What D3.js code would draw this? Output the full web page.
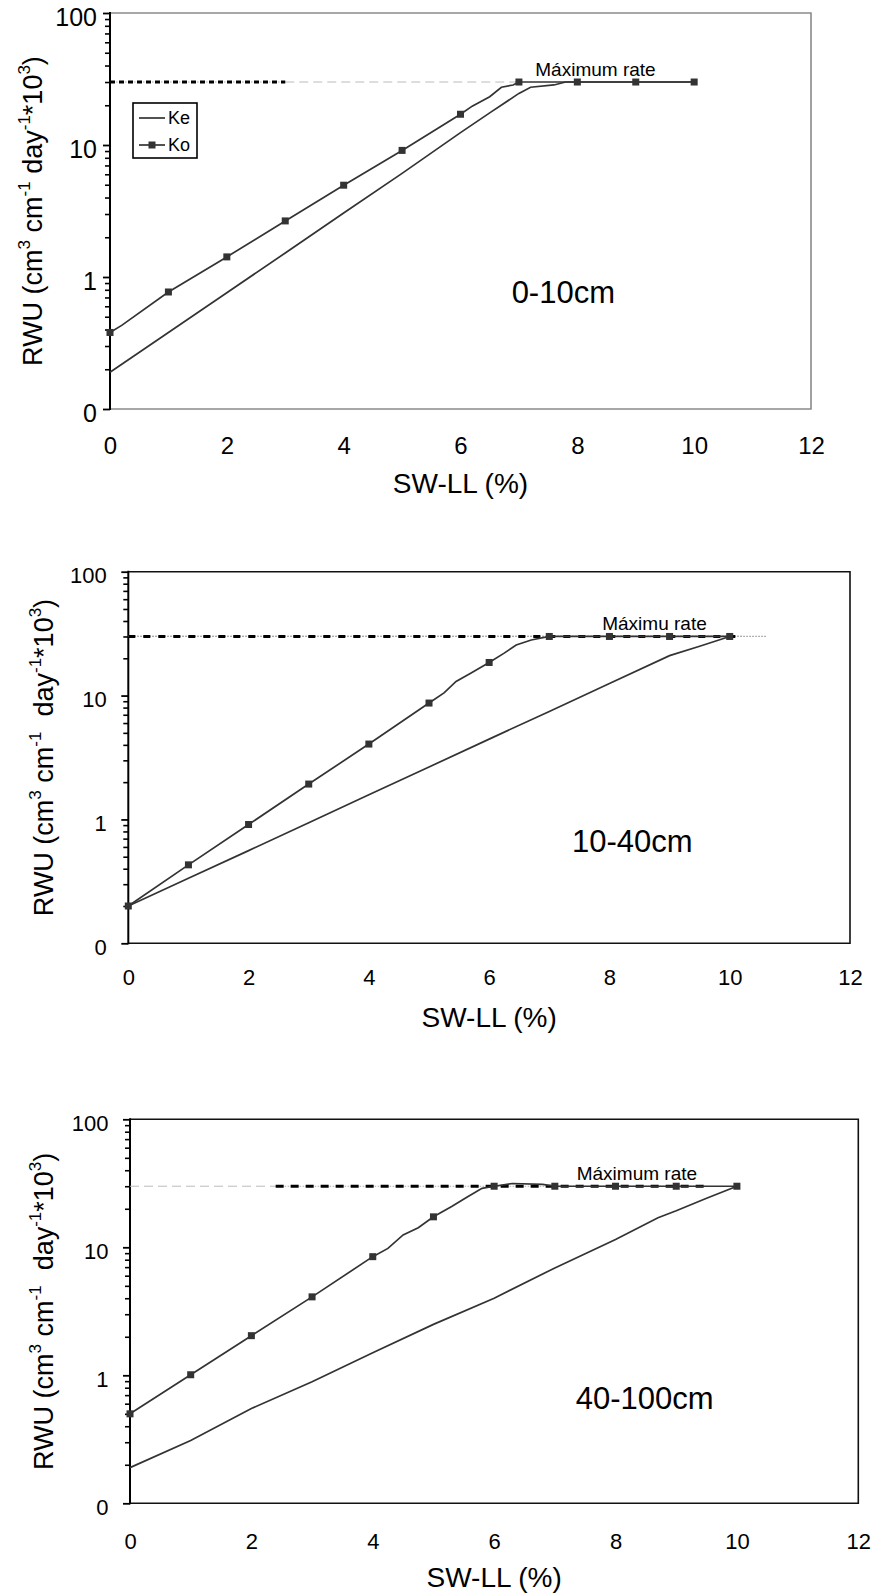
<html>
<meta http-equiv="Content-type" content="text/html;charset=UTF-8">
<head>
<title>RWU vs SW-LL</title>
<script src="https://d3js.org/d3.v7.min.js"></script>
<style>
    body { margin: 0; background: #fff; }
    svg { display: block; font-family: "Liberation Sans", Arial, sans-serif; }
    .domain { display: none; }
</style>
</head>
<body>
<div id="chart"></div>

<script type="text/javascript">
// ***** DATA *****
var xTicks = [0, 2, 4, 6, 8, 10, 12];
var yMajor = [0.1, 1, 10, 100];
var yMajorLabels = ["0", "1", "10", "100"];
var maxRate = 30;

// 0-10cm
var ke1X = [0, 1, 2, 3, 4, 5, 6, 6.5, 7, 7.2, 7.6, 7.8, 8, 9, 10];
var ke1Y = [0.19, 0.38, 0.76, 1.52, 3.05, 6.1, 12.4, 17.5, 24.6, 27.4, 28.5, 30, 30, 30, 30];
var ko1X = [0, 0.2, 1, 2, 3, 4, 5, 6, 6.2, 6.5, 6.7, 6.9, 7, 8, 9, 10];
var ko1Y = [0.38, 0.43, 0.77, 1.42, 2.66, 4.96, 9.1, 17.1, 19.7, 23.2, 27.4, 28.5, 30, 30, 30, 30];

// 10-40cm
var ke2X = [0, 1, 2, 3, 4, 5, 6, 7, 8, 9, 9.5, 10];
var ke2Y = [0.2, 0.335, 0.56, 0.94, 1.58, 2.65, 4.45, 7.45, 12.5, 21, 25, 30];
var ko2X = [0, 1, 2, 3, 4, 5, 5.25, 5.45, 5.7, 6, 6.25, 6.45, 6.7, 7, 8, 9, 10];
var ko2Y = [0.2, 0.43, 0.91, 1.93, 4.06, 8.7, 10.5, 13, 15.2, 18.5, 22, 25.6, 28.1, 30, 30, 30, 30];

// 40-100cm
var ke3X = [0, 1, 2, 3, 4, 5, 6, 7, 8, 8.7, 9, 9.5, 10];
var ke3Y = [0.19, 0.31, 0.55, 0.89, 1.5, 2.5, 4.0, 6.9, 11.5, 17, 19.3, 24.2, 30];
var ko3X = [0, 1, 2, 3, 4, 4.25, 4.5, 4.75, 5, 5.3, 5.55, 5.8, 6, 6.3, 6.8, 7, 8, 9, 10];
var ko3Y = [0.5, 1.01, 2.04, 4.1, 8.45, 9.8, 12.5, 14.2, 17.3, 20.8, 24.6, 28.9, 30, 31.5, 31, 30, 30, 30, 30];

var panels = [
    { left: 110, right: 811, top: 13, bottom: 409, frame: "#8a8a8a",
      yFont: 25, yPad: 6, xFont: 24, xPad: 28, titleX: 42, dash: "5,4",
      depth: "0-10cm", depthAt: [7.76, 0.64], rateText: "Máximum rate", rateAt: [7.28, 30],
      blackDash: [0, 3.0], greyDash: [3.0, 6.97], greyStyle: "dash",
      keX: ke1X, keY: ke1Y, koX: ko1X, koY: ko1Y, legend: true,
      yTitle: [["RWU (cm", 0], ["3", 1], [" cm", 0], ["-1", 1], [" day", 0], ["-1", 1], ["*10", 0], ["3", 1], [")", 0]] },
    { left: 128.3, right: 850, top: 571.7, bottom: 943.3, frame: "#111",
      yFont: 22, yPad: 14.5, xFont: 22, xPad: 26, titleX: 53, dash: "7,8",
      depth: "10-40cm", depthAt: [8.38, 0.55], rateText: "Máximu rate", rateAt: [7.88, 30],
      blackDash: [0, 10.2], greyDash: [0, 10.6], greyStyle: "dot",
      keX: ke2X, keY: ke2Y, koX: ko2X, koY: ko2Y, legend: false,
      yTitle: [["RWU (cm", 0], ["3", 1], [" cm", 0], ["-1", 1], ["  day", 0], ["-1", 1], ["*10", 0], ["3", 1], [")", 0]] },
    { left: 130, right: 858.3, top: 1119.3, bottom: 1503.3, frame: "#111",
      yFont: 22, yPad: 14.5, xFont: 22, xPad: 30, titleX: 53, dash: "8,7",
      depth: "40-100cm", depthAt: [8.48, 0.55], rateText: "Máximum rate", rateAt: [7.36, 30],
      blackDash: [2.4, 9.5], greyDash: [0, 2.4], greyStyle: "dash",
      keX: ke3X, keY: ke3Y, koX: ko3X, koY: ko3Y, legend: false,
      yTitle: [["RWU (cm", 0], ["3", 1], [" cm", 0], ["-1", 1], ["  day", 0], ["-1", 1], ["*10", 0], ["3", 1], [")", 0]] }
];

var svg = d3.select("#chart").append("svg")
    .attr("width", 875)
    .attr("height", 1595);

var lineColor = "#333";

panels.forEach(function(p) {
    var g = svg.append("g");
    var x = d3.scaleLinear().domain([0, 12]).range([p.left, p.right]);
    var y = d3.scaleLog().domain([0.1, 100]).range([p.bottom, p.top]);

    // frame (top, right, bottom) then black left axis
    g.append("path")
        .attr("d", "M" + x(0) + "," + y(100) + "H" + x(12) + "V" + y(0.1) + "H" + x(0))
        .attr("fill", "none").attr("stroke", p.frame).attr("stroke-width", 1.6);
    g.append("line")
        .attr("x1", x(0)).attr("x2", x(0)).attr("y1", y(100) - 1).attr("y2", y(0.1) + 1)
        .attr("stroke", "#000").attr("stroke-width", 2);

    // minor ticks
    var minors = [];
    [0.1, 1, 10].forEach(function(d) {
        for (var k = 2; k <= 9; k++) minors.push(d * k);
    });
    g.append("g")
        .attr("transform", "translate(" + x(0) + ",0)")
        .call(d3.axisLeft(y).tickValues(minors).tickSize(5).tickFormat(""))
        .selectAll("line").attr("stroke", "#000").attr("stroke-width", 1.6);

    // major ticks + labels
    var ya = g.append("g")
        .attr("transform", "translate(" + x(0) + ",0)")
        .call(d3.axisLeft(y).tickValues(yMajor).tickSize(7).tickPadding(p.yPad)
            .tickFormat(function(d, i) { return yMajorLabels[i]; }));
    ya.selectAll("line").attr("stroke", "#000").attr("stroke-width", 1.8);
    ya.selectAll("text").attr("font-size", p.yFont).attr("fill", "#000")
        .attr("font-family", "Liberation Sans, Arial, sans-serif").attr("dy", "0.5em");

    // x labels (no ticks)
    var xa = g.append("g")
        .attr("transform", "translate(0," + y(0.1) + ")")
        .call(d3.axisBottom(x).tickValues(xTicks).tickSize(0).tickPadding(p.xPad));
    xa.selectAll("text").attr("font-size", p.xFont).attr("fill", "#000")
        .attr("font-family", "Liberation Sans, Arial, sans-serif");

    // axis titles
    g.append("text")
        .attr("x", (p.left + p.right) / 2)
        .attr("y", p.bottom + 84)
        .attr("text-anchor", "middle")
        .attr("font-size", 28)
        .text("SW-LL (%)");

    var yt = g.append("text")
        .attr("transform", "translate(" + p.titleX + "," + ((p.top + p.bottom) / 2) + ") rotate(-90)")
        .attr("text-anchor", "middle")
        .attr("font-size", 27);
    var lift = 0;
    p.yTitle.forEach(function(part) {
        var sup = part[1] === 1;
        var dy = sup ? -12 - lift : -lift;
        lift = sup ? -12 : 0;
        yt.append("tspan")
            .attr("dy", dy)
            .attr("font-size", sup ? 17 : 27)
            .style("white-space", "pre")
            .text(part[0]);
    });
    yt.style("white-space", "pre");

    // maximum rate reference lines
    g.append("line")
        .attr("x1", x(p.greyDash[0])).attr("x2", x(p.greyDash[1]))
        .attr("y1", y(maxRate)).attr("y2", y(maxRate))
        .attr("stroke", p.greyStyle === "dot" ? "#999" : "#bbb")
        .attr("stroke-width", p.greyStyle === "dot" ? 1.2 : 1)
        .attr("stroke-dasharray", p.greyStyle === "dot" ? "1.5,1.5" : "9,5");
    g.append("line")
        .attr("x1", x(p.blackDash[0])).attr("x2", x(p.blackDash[1]))
        .attr("y1", y(maxRate)).attr("y2", y(maxRate))
        .attr("stroke", "#aaa").attr("stroke-width", 1.2)
        .attr("stroke-dasharray", "1.5,1.5");
    g.append("line")
        .attr("x1", x(p.blackDash[0])).attr("x2", x(p.blackDash[1]))
        .attr("y1", y(maxRate)).attr("y2", y(maxRate))
        .attr("stroke", "#000").attr("stroke-width", 3)
        .attr("stroke-dasharray", p.dash);

    // series
    var line = d3.line()
        .x(function(d) { return x(d[0]); })
        .y(function(d) { return y(d[1]); });
    var ke = p.keX.map(function(v, i) { return [v, p.keY[i]]; });
    var ko = p.koX.map(function(v, i) { return [v, p.koY[i]]; });

    g.append("path").datum(ke)
        .attr("d", line).attr("fill", "none")
        .attr("stroke", lineColor).attr("stroke-width", 1.7);
    g.append("path").datum(ko)
        .attr("d", line).attr("fill", "none")
        .attr("stroke", lineColor).attr("stroke-width", 1.7);
    g.selectAll("rect.mk")
        .data(ko.filter(function(d) { return Number.isInteger(d[0]); }))
        .enter().append("rect")
        .attr("class", "mk")
        .attr("x", function(d) { return x(d[0]) - 3.5; })
        .attr("y", function(d) { return y(d[1]) - 3.5; })
        .attr("width", 7).attr("height", 7)
        .attr("fill", lineColor);

    // annotations
    g.append("text")
        .attr("x", x(p.rateAt[0]))
        .attr("y", y(p.rateAt[1]) - 6)
        .attr("font-size", 19)
        .text(p.rateText);
    g.append("text")
        .attr("x", x(p.depthAt[0]))
        .attr("y", y(p.depthAt[1]))
        .attr("text-anchor", "middle")
        .attr("font-size", 31)
        .text(p.depth);

    // legend
    if (p.legend) {
        var lg = g.append("g").attr("transform", "translate(133,103)");
        lg.append("rect").attr("width", 64).attr("height", 55)
            .attr("fill", "#fff").attr("stroke", "#000").attr("stroke-width", 1.6);
        [["Ke", false], ["Ko", true]].forEach(function(it, i) {
            var yy = 15 + i * 27;
            lg.append("line").attr("x1", 6).attr("x2", 32).attr("y1", yy).attr("y2", yy)
                .attr("stroke", lineColor).attr("stroke-width", 1.7);
            if (it[1]) {
                lg.append("rect").attr("x", 15.5).attr("y", yy - 3.5)
                    .attr("width", 7).attr("height", 7).attr("fill", lineColor);
            }
            lg.append("text").attr("x", 35).attr("y", yy + 6)
                .attr("font-size", 18).text(it[0]);
        });
    }
});
</script>
</body>
</html>
